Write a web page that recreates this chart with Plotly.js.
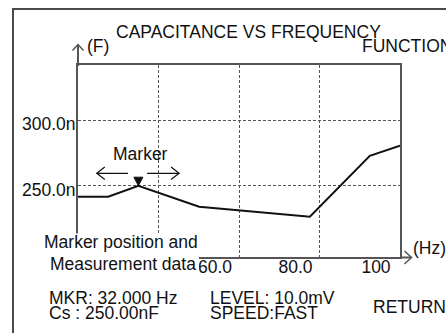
<!DOCTYPE html>
<html><head><meta charset="utf-8">
<script src="https://cdn.plot.ly/plotly-3.0.1.min.js"></script>
<style>html,body{margin:0;padding:0;background:#fff;overflow:hidden;} #chart{width:446px;height:333px;}</style>
</head><body><div id="chart"></div>
<script>
// ---- data ----
const freqHz = [20, 27.5, 35, 50.1, 77.6, 92.5, 100];
const capacitanceN = [241.6, 241.6, 250, 234.0, 226.4, 272.8, 280.4];
const markerHz = 35;
const markerCapN = 250;
const freqTickVals = [40, 60, 80, 100];
const freqTickText = ['', '60.0', '80.0', '100'];
const capTickVals = [250, 300];
const capTickText = ['250.0n', '300.0n'];
const titleText = 'CAPACITANCE VS FREQUENCY';
const infoLeft = ['MKR: 32.000 Hz', 'Cs : 250.00nF'];
const infoMid = ['LEVEL: 10.0mV', 'SPEED:FAST'];
const noteLines = ['Marker position and', 'Measurement data'];

// ---- layout helpers (pixel -> paper) ----
const L = 78, R = 400, T = 65, B = 257;
const px = x => (x - L) / (R - L);
const py = y => (B - y) / (B - T);
const FONT = 'Liberation Sans, Arial, sans-serif';
const FS = 17.5;
const TXT = '#111';
const FRAME = '#4a4a4a';

function pathP(pts) {
  return pts.map((p, i) => (i ? 'L' : 'M') + px(p[0]).toFixed(5) + ',' + py(p[1]).toFixed(5)).join(' ');
}
function lineShape(pts, color, width) {
  return {type: 'path', xref: 'paper', yref: 'paper', path: pathP(pts), layer: 'above',
          line: {color: color, width: width}, fillcolor: 'rgba(0,0,0,0)'};
}
function pixPath(pts) {
  return pts.map((p, i) => (i ? 'L' : 'M') + p[0] + ',' + p[1]).join(' ');
}
function markerShape(pts, fill, width) {
  return {type: 'path', xref: 'x', yref: 'y', xsizemode: 'pixel', ysizemode: 'pixel',
          xanchor: markerHz, yanchor: markerCapN, path: pixPath(pts) + (fill ? ' Z' : ''),
          layer: 'above', line: {color: '#111', width: width},
          fillcolor: fill ? '#111' : 'rgba(0,0,0,0)'};
}
function txt(text, x, y, xanchor) {
  const dx = xanchor === 'left' ? -1.5 : (xanchor === 'right' ? 1.5 : 0);
  return {text: text, xref: 'paper', yref: 'paper', x: px(x + dx), y: py(y), xanchor: xanchor,
          yanchor: 'middle', showarrow: false, font: {family: FONT, size: FS, color: TXT}};
}

const shapes = [
  // outer frame
  lineShape([[13, 345], [13, 9], [460, 9]], FRAME, 2),
  // y axis extension with arrow
  lineShape([[78, 66], [78, 44.5]], '#555', 2),
  lineShape([[72.5, 50.5], [78, 44.5], [83.5, 50.5]], '#555', 1.5),
  // x axis arrow
  lineShape([[400, 257.5], [411.5, 257.5]], '#555', 2),
  lineShape([[404.5, 251], [411.5, 257.5], [404.5, 264]], '#555', 1.5),
  // white box behind the note text
  {type: 'rect', xref: 'paper', yref: 'paper', x0: px(38), x1: px(199), y0: py(233.5), y1: py(282),
   fillcolor: '#fff', line: {width: 0}, layer: 'above'},
  // marker triangle
  markerShape([[-4.5, 8.5], [4.5, 8.5], [0, 0]], true, 1),
  // marker move arrows
  markerShape([[-41.6, 12.4], [-10.3, 12.4]], false, 1.2),
  markerShape([[-33.6, 18.6], [-41.6, 12.4], [-33.6, 6.2]], false, 1.2),
  markerShape([[8.7, 12.4], [40.7, 12.4]], false, 1.2),
  markerShape([[32.7, 18.6], [40.7, 12.4], [32.7, 6.2]], false, 1.2)
];

const annotations = [
  txt(titleText, 248, 32, 'center'),
  txt('(F)', 86, 46, 'left'),
  txt('FUNCTION', 361.7, 46, 'left'),
  txt('Marker', 140, 154, 'center'),
  txt(noteLines[0], 198, 242, 'right'),
  txt(noteLines[1], 196.5, 264, 'right'),
  txt('(Hz)', 412, 248, 'left'),
  txt(infoLeft[0], 48.3, 297.5, 'left'),
  txt(infoLeft[1], 48.3, 313, 'left'),
  txt(infoMid[0], 209.3, 297.5, 'left'),
  txt(infoMid[1], 209.3, 313, 'left'),
  txt('RETURN', 372, 307.3, 'left')
];

const trace = {
  x: freqHz, y: capacitanceN, type: 'scatter', mode: 'lines',
  line: {color: '#111', width: 2}, hoverinfo: 'skip', cliponaxis: false
};

const axisCommon = {
  showline: true, mirror: true, linecolor: '#555', linewidth: 2,
  ticks: '', showgrid: true, gridcolor: '#555', gridwidth: 1, griddash: '3px,2px',
  zeroline: false, fixedrange: true,
  tickfont: {family: FONT, size: FS, color: TXT}
};

const layout = {
  width: 446, height: 333,
  margin: {l: L, r: 446 - R, t: T, b: 333 - B, pad: 0},
  paper_bgcolor: '#fff', plot_bgcolor: '#fff',
  showlegend: false,
  xaxis: Object.assign({}, axisCommon, {
    range: [20, 100], tickmode: 'array', tickvals: freqTickVals, ticktext: freqTickText,
    ticklabelshift: -24, ticklabelstandoff: -7
  }),
  yaxis: Object.assign({}, axisCommon, {
    range: [195.7, 341.9], tickmode: 'array', tickvals: capTickVals, ticktext: capTickText,
    ticklabelshift: 4, ticklabelstandoff: -3
  }),
  shapes: shapes,
  annotations: annotations
};

Plotly.newPlot('chart', [trace], layout, {staticPlot: true, displayModeBar: false});
</script>
</body></html>
